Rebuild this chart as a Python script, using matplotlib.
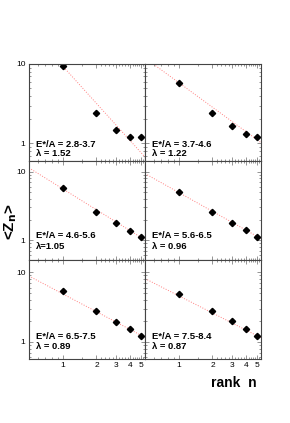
import numpy as np
import matplotlib
matplotlib.use('Agg')
import matplotlib.pyplot as plt
from matplotlib.ticker import FixedLocator, NullFormatter, FixedFormatter

plt.rcParams['font.family'] = ['Liberation Sans', 'DejaVu Sans']

# rank n = 1..5
rank = [1, 2, 3, 4, 5]

# <Z_n> per energy bin
z_28_37 = [9.4, 2.40, 1.47, 1.19, 1.19]
z_37_46 = [5.8, 2.42, 1.66, 1.32, 1.21]
z_46_56 = [5.7, 2.60, 1.75, 1.35, 1.12]
z_56_65 = [5.0, 2.57, 1.77, 1.39, 1.10]
z_65_75 = [5.35, 2.80, 1.95, 1.53, 1.23]
z_75_84 = [4.8, 2.75, 2.00, 1.52, 1.20]

# power-law fit lines  Z = amp * n^-slope  (as drawn)
fit_amp = [9.4, 5.83, 5.63, 4.98, 4.9, 4.6]
fit_slope = [1.56, 1.03, 1.02, 0.92, 0.85, 0.82]

labels = ['E*/A = 2.8-3.7', 'E*/A = 3.7-4.6', 'E*/A = 4.6-5.6',
          'E*/A = 5.6-6.5', 'E*/A = 6.5-7.5', 'E*/A = 7.5-8.4']
lambdas = ['λ = 1.52', 'λ = 1.22', 'λ=1.05', 'λ = 0.96', 'λ = 0.89', 'λ = 0.87']

series = [z_28_37, z_37_46, z_46_56, z_56_65, z_65_75, z_75_84]

row_ylim = [(0.6, 10.0), (0.51, 14.4), (0.57, 15.0)]
row_text_y = [(0.175, 0.08), (0.248, 0.134), (0.225, 0.124)]

fig = plt.figure(figsize=(2.9, 4.23), dpi=100)

W, H = 290.0, 423.0
col_x = [29, 145]
col_w = 116
row_px = [(64, 161), (161, 260), (260, 359)]

xminor = [0.6, 0.7, 0.8, 0.9, 1.5] + [round(v, 1) for v in np.arange(2.2, 5.41, 0.2)
                                      if abs(v - round(v)) > 1e-6]
frame_col = '#444444'

for i in range(6):
    r, c = divmod(i, 2)
    top, bot = row_px[r]
    ax = fig.add_axes([col_x[c] / W, 1 - bot / H, col_w / W, (bot - top) / H])
    ax.set_xscale('log')
    ax.set_yscale('log')
    ax.set_xlim(0.5, 5.42)
    ax.set_ylim(*row_ylim[r])

    xs = np.array([0.5, 5.42])
    ax.plot(xs, fit_amp[i] * xs ** (-fit_slope[i]), ls=':', lw=0.7,
            color='#ff8080')
    ax.plot(rank, series[i], ls='none', marker='D', ms=3.2, color='black')

    ax.text(0.06, row_text_y[r][0], labels[i], transform=ax.transAxes,
            fontsize=6.8, fontweight='bold', va='center', ha='left')
    ax.text(0.06, row_text_y[r][1], lambdas[i], transform=ax.transAxes,
            fontsize=6.8, fontweight='bold', va='center', ha='left')

    ax.xaxis.set_major_locator(FixedLocator(rank))
    ax.xaxis.set_minor_locator(FixedLocator(xminor))
    ax.xaxis.set_minor_formatter(NullFormatter())
    ax.yaxis.set_major_locator(FixedLocator([1, 10]))
    ax.yaxis.set_minor_locator(FixedLocator([0.6, 0.7, 0.8, 0.9, 2, 3, 4, 5, 6, 7, 8, 9]))
    ax.yaxis.set_minor_formatter(NullFormatter())

    if r == 2:
        ax.xaxis.set_major_formatter(FixedFormatter([str(v) for v in rank]))
    else:
        ax.xaxis.set_major_formatter(NullFormatter())
    if c == 0:
        ax.yaxis.set_major_formatter(FixedFormatter(['1', '10']))
    else:
        ax.yaxis.set_major_formatter(NullFormatter())

    ax.tick_params(which='both', direction='in', top=True, right=True,
                   labelsize=6, pad=2.5, color=frame_col, width=0.4)
    ax.tick_params(which='major', length=3)
    ax.tick_params(which='minor', length=1.5)
    for s in ax.spines.values():
        s.set_color(frame_col)
        s.set_linewidth(0.8)

fig.text(11 / W, 1 - 222 / H, r'<Z$_\mathbf{n}$>', rotation=90, fontsize=11,
         fontweight='bold', ha='center', va='center')
fig.text(257 / W, 1 - 383 / H, 'rank  n', fontsize=10, fontweight='bold',
         ha='right', va='center')

fig.savefig('out.png', dpi=100)
